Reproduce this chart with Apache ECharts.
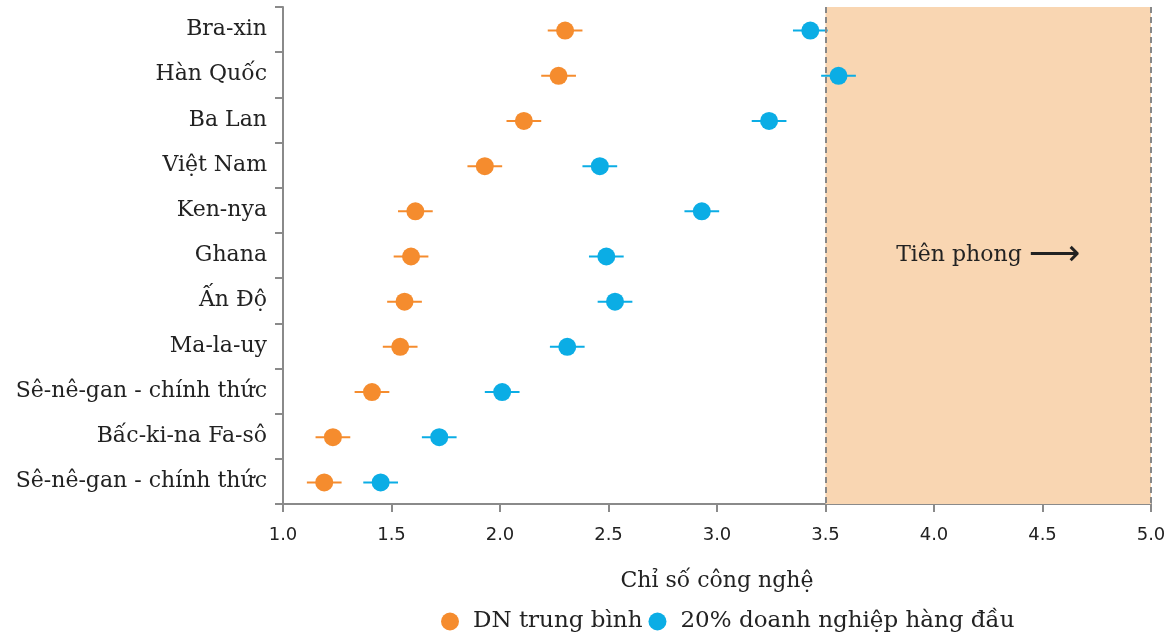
<!DOCTYPE html>
<html>
<head>
<meta charset="utf-8">
<script src="https://cdn.jsdelivr.net/npm/echarts@6/dist/echarts.min.js"></script>
<style>
  html, body { margin: 0; padding: 0; background: #fff; }
  #chart { width: 1172px; height: 638px; }
</style>
</head>
<body>
<div id="chart"></div>
<script>
// danh sách quốc gia, từ trên xuống
const countries = ['Bra-xin', 'Hàn Quốc', 'Ba Lan', 'Việt Nam', 'Ken-nya', 'Ghana', 'Ấn Độ', 'Ma-la-uy', 'Sê-nê-gan - chính thức', 'Bấc-ki-na Fa-sô', 'Sê-nê-gan - chính thức ']
const avgValues = [2.30, 2.27, 2.11, 1.93, 1.61, 1.59, 1.56, 1.54, 1.41, 1.23, 1.19]
const avgErr = [0.08, 0.08, 0.08, 0.08, 0.08, 0.08, 0.08, 0.08, 0.08, 0.08, 0.08]
const topValues = [3.43, 3.56, 3.24, 2.46, 2.93, 2.49, 2.53, 2.31, 2.01, 1.72, 1.45]
const topErr = [0.08, 0.08, 0.08, 0.08, 0.08, 0.08, 0.08, 0.08, 0.08, 0.08, 0.08]
const xTicks = [1.0, 1.5, 2.0, 2.5, 3.0, 3.5, 4.0, 4.5, 5.0]
const leaderFrom = 3.5
const leaderTo = 5.0

const ORANGE = '#F58C2E'
const BLUE = '#0BADE5'
const serif = 'DejaVu Serif'

let chart = echarts.init(document.getElementById('chart'))

function errorData(vals, errs) {
  return vals.map((v, i) => [v - errs[i], v + errs[i], countries[i]])
}

// vẽ thanh sai số ngang
function renderErr(params, api) {
  let cat = api.value(2)
  let p1 = api.coord([api.value(0), cat])
  let p2 = api.coord([api.value(1), cat])
  return {
    type: 'line',
    shape: { x1: p1[0], y1: p1[1] + 1, x2: p2[0], y2: p2[1] + 1 },
    style: { stroke: api.visual('color'), lineWidth: 2 }
  }
}

chart.setOption({
  animation: false,
  grid: { left: 283, right: 21, top: 7, bottom: 134 },
  legend: {
    bottom: 0,
    left: 436,
    icon: 'circle',
    itemWidth: 18,
    itemHeight: 18,
    itemGap: 6,
    data: ['DN trung bình', '20% doanh nghiệp hàng đầu'],
    textStyle: { fontFamily: serif, fontSize: 23, color: '#222', padding: [0, 0, 0, 9] }
  },
  xAxis: {
    type: 'value',
    min: xTicks[0],
    max: xTicks[xTicks.length - 1],
    interval: 0.5,
    name: 'Chỉ số công nghệ',
    nameLocation: 'middle',
    nameGap: 66,
    nameTextStyle: { fontFamily: serif, fontSize: 22, color: '#222' },
    axisLine: { show: true, lineStyle: { color: '#8a8a8a', width: 2 } },
    axisTick: { show: true, length: 8, lineStyle: { color: '#8a8a8a', width: 2 } },
    axisLabel: {
      margin: 22,
      fontFamily: 'DejaVu Sans', fontSize: 18, color: '#222',
      formatter: v => v.toFixed(1)
    },
    splitLine: { show: false }
  },
  yAxis: {
    type: 'category',
    data: countries,
    inverse: true,
    axisLine: { show: true, lineStyle: { color: '#8a8a8a', width: 2 } },
    axisTick: { show: true, length: 8, lineStyle: { color: '#8a8a8a', width: 2 } },
    axisLabel: {
      margin: 16,
      fontFamily: serif, fontSize: 22, color: '#222',
      formatter: v => v.trim()
    }
  },
  series: [
    {
      name: 'DN trung bình',
      type: 'custom',
      renderItem: renderErr,
      itemStyle: { color: ORANGE },
      dimensions: ['lo', 'hi', 'cat'],
      encode: { x: ['lo', 'hi'], y: 'cat' },
      data: errorData(avgValues, avgErr),
      z: 3
    },
    {
      name: '20% doanh nghiệp hàng đầu',
      type: 'custom',
      renderItem: renderErr,
      itemStyle: { color: BLUE },
      dimensions: ['lo', 'hi', 'cat'],
      encode: { x: ['lo', 'hi'], y: 'cat' },
      data: errorData(topValues, topErr),
      z: 3
    },
    {
      name: 'DN trung bình',
      type: 'scatter',
      symbolSize: 18,
      symbolOffset: [0, 1],
      itemStyle: { color: ORANGE, opacity: 1 },
      data: avgValues.map((v, i) => [v, countries[i]]),
      z: 4,
      markArea: {
        silent: true,
        itemStyle: { color: '#F9D6B2' },
        label: {
          show: true,
          position: 'inside',
          formatter: 'Tiên phong {a|⟶}',
          fontFamily: serif, fontSize: 22, color: '#222',
          rich: { a: { fontFamily: 'DejaVu Sans', fontSize: 36, color: '#222' } }
        },
        data: [[{ xAxis: leaderFrom }, { xAxis: leaderTo }]]
      },
      markLine: {
        silent: true,
        symbol: 'none',
        label: { show: false },
        lineStyle: { color: '#888', type: [6, 4], width: 2 },
        data: [{ xAxis: leaderFrom }, { xAxis: leaderTo }]
      }
    },
    {
      name: '20% doanh nghiệp hàng đầu',
      type: 'scatter',
      symbolSize: 18,
      symbolOffset: [0, 1],
      itemStyle: { color: BLUE, opacity: 1 },
      data: topValues.map((v, i) => [v, countries[i]]),
      z: 4
    }
  ]
})
</script>
</body>
</html>
